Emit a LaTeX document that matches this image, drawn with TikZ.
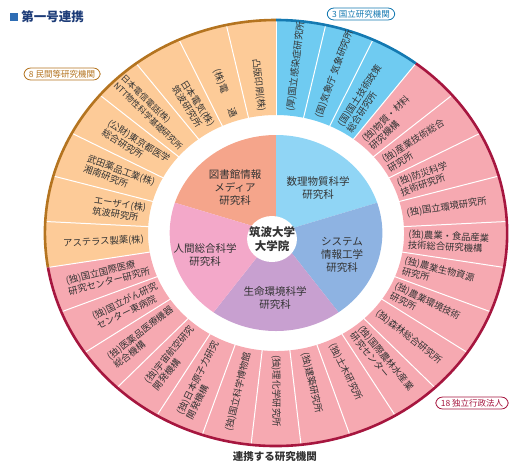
\documentclass[tikz,border=0pt]{standalone}
\usepackage{fontspec}
\setmainfont{Noto Sans CJK JP}
\usepackage{tikz}
\usetikzlibrary{positioning}
\definecolor{privfill}{HTML}{FDCB98}
\definecolor{privline}{HTML}{B47420}
\definecolor{natfill}{HTML}{6FCBF1}
\definecolor{natline}{HTML}{1479B1}
\definecolor{indfill}{HTML}{F6A9B1}
\definecolor{indline}{HTML}{A6163F}
\definecolor{piemedia}{HTML}{F5A58B}
\definecolor{piemath}{HTML}{90D5F5}
\definecolor{piesys}{HTML}{8EB3E2}
\definecolor{pielife}{HTML}{C8A0D0}
\definecolor{piehuman}{HTML}{F3A8C9}
\definecolor{inkdark}{HTML}{333333}
\definecolor{titleblue}{HTML}{1D3C78}
\definecolor{squareblue}{HTML}{2E6DB4}
\def\instsize{9.3}
\tikzset{
  instlabel/.style  = {font=\fontsize{\instsize}{10.8}\selectfont, text=inkdark,
                       align=left, inner sep=1pt},
  pielabel/.style   = {font=\fontsize{10.5}{13}\selectfont, text=inkdark,
                       align=center, inner sep=0pt},
  hublabel/.style   = {font=\fontsize{11.5}{13.5}\selectfont\bfseries, text=inkdark,
                       align=center, inner sep=0pt},
  groupbadge/.style = {draw, fill=white, rounded corners=6.5pt, line width=0.8pt,
                       font=\fontsize{8.5}{9.5}\selectfont, inner xsep=5pt, inner ysep=2pt},
  divider/.style    = {draw=white, line width=1pt},
  rimline/.style    = {line width=2.6pt},
}

\begin{document}
\begin{tikzpicture}[x=1.085pt, y=1pt]
  \useasboundingbox (-254.4,-230) rectangle (214.7,233);
  % inner pie of the graduate schools
  \foreach \a/\b/\c in {90/162/piemedia, 18/90/piemath, -54/18/piesys,
                        -126/-54/pielife, 162/234/piehuman}
    \fill[\c] (0,0) -- (\a:98) arc[start angle=\a, end angle=\b, radius=98] -- cycle;
  \fill[white] (-3.7,-6) circle[radius=23];
  % outer ring, three groups
  \foreach \a/\b/\c in {90/189.3103/privfill, 52.7586/90/natfill, -170.6897/52.7586/indfill}
    \fill[\c] (\a:118) -- (\a:213) arc[start angle=\a, end angle=\b, radius=213]
      -- (\b:118) arc[start angle=\b, end angle=\a, radius=118] -- cycle;
  \foreach \k in {0,...,28}
    \draw[divider] ({90-\k*360/29}:117) -- ({90-\k*360/29}:214);
  \draw[rimline, privline] (90:213) arc[start angle=90, end angle=189.3103, radius=213];
  \draw[rimline, natline] (52.7586:213) arc[start angle=52.7586, end angle=90, radius=213];
  \draw[rimline, indline] (-170.6897:213) arc[start angle=-170.6897, end angle=52.7586, radius=213];
  % institute labels, clockwise from the top
  \foreach \i/\txt in {0/{(厚)国立感染症研究所}, 1/{(国)気象庁 気象研究所},
      2/{(国)国土技術政策\\総合研究所}, 3/{(独)物質・材料\\研究機構},
      4/{(独)産業技術総合\\研究所}, 5/{(独)防災科学\\技術研究所},
      6/{(独)国立環境研究所}, 7/{(独)農業・食品産業\\技術総合研究機構},
      8/{(独)農業生物資源\\研究所}, 9/{(独)農業環境技術\\研究所},
      10/{(独)森林総合研究所}, 11/{(独)国際農林水産業\\研究センター},
      12/{(独)土木研究所}, 13/{(独)建築研究所}, 14/{(独)理化学研究所},
      15/{(独)国立科学博物館}, 16/{(独)日本原子力研究\\開発機構},
      17/{(独)宇宙航空研究\\開発機構}, 18/{(独)医薬品医療機器\\総合機構},
      19/{(独)国立がん研究\\センター東病院}, 20/{(独)国立国際医療\\研究センター研究所},
      21/{アステラス製薬(株)}, 22/{エーザイ(株)\\筑波研究所},
      23/{武田薬品工業(株)\\湘南研究所}, 24/{(公財)東京都医学\\総合研究所},
      25/{日本電信電話(株)\\NTT物性科学基礎研究所}, 26/{日本電気(株)\\筑波研究所},
      27/{(株)電\hspace{1.8em}通}, 28/{凸版印刷(株)}} {
    \pgfmathsetmacro\m{90-(\i+0.5)*360/29}
    \ifnum\i=25 \def\instsize{8.4}\fi
    \ifnum\i<15
      \pgfmathsetmacro\rot{atan2(sin(\m),1.085*cos(\m))}
      \node[instlabel, anchor=west, rotate=\rot] (inst\i) at (\m:121) {\txt};
    \else
      \pgfmathsetmacro\rot{atan2(-sin(\m),-1.085*cos(\m))}
      \node[instlabel, anchor=east, rotate=\rot] (inst\i) at (\m:121) {\txt};
    \fi
  }
  \node[pielabel] (media) at (-37.8,45) {図書館情報\\メディア\\研究科};
  \node[pielabel] (math) at (38.7,45) {数理物質科学\\研究科};
  \node[pielabel] (sys) at (60.8,-22) {システム\\情報工学\\研究科};
  \node[pielabel] (life) at (-0.9,-65) {生命環境科学\\研究科};
  \node[pielabel] (human) at (-65.4,-22) {人間総合科学\\研究科};
  \node[hublabel] (hub) at (-3.7,-6) {筑波大学\\大学院};
  % group badges
  \node[groupbadge, draw=natline, text=natline] (natbadge) at (78.3,219) {3 国立研究機関};
  \node[groupbadge, draw=privline, text=privline] (privbadge) at (-197.2,159) {8 民間等研究機関};
  \node[groupbadge, draw=indline, text=indline] (indbadge) at (180.6,-170) {18 独立行政法人};
  % heading and footer
  \node[fill=squareblue, minimum size=8pt, inner sep=0pt] (bullet) at (-241.5,216) {};
  \node[right=3pt of bullet, font=\fontsize{12.5}{14}\selectfont\bfseries, text=titleblue,
    inner sep=0pt] (title) {第一号連携};
  \node[font=\fontsize{10.5}{12}\selectfont\bfseries, text=inkdark, inner sep=0pt]
    (footer) at (-1,-224) {連携する研究機関};
\end{tikzpicture}
\end{document}
